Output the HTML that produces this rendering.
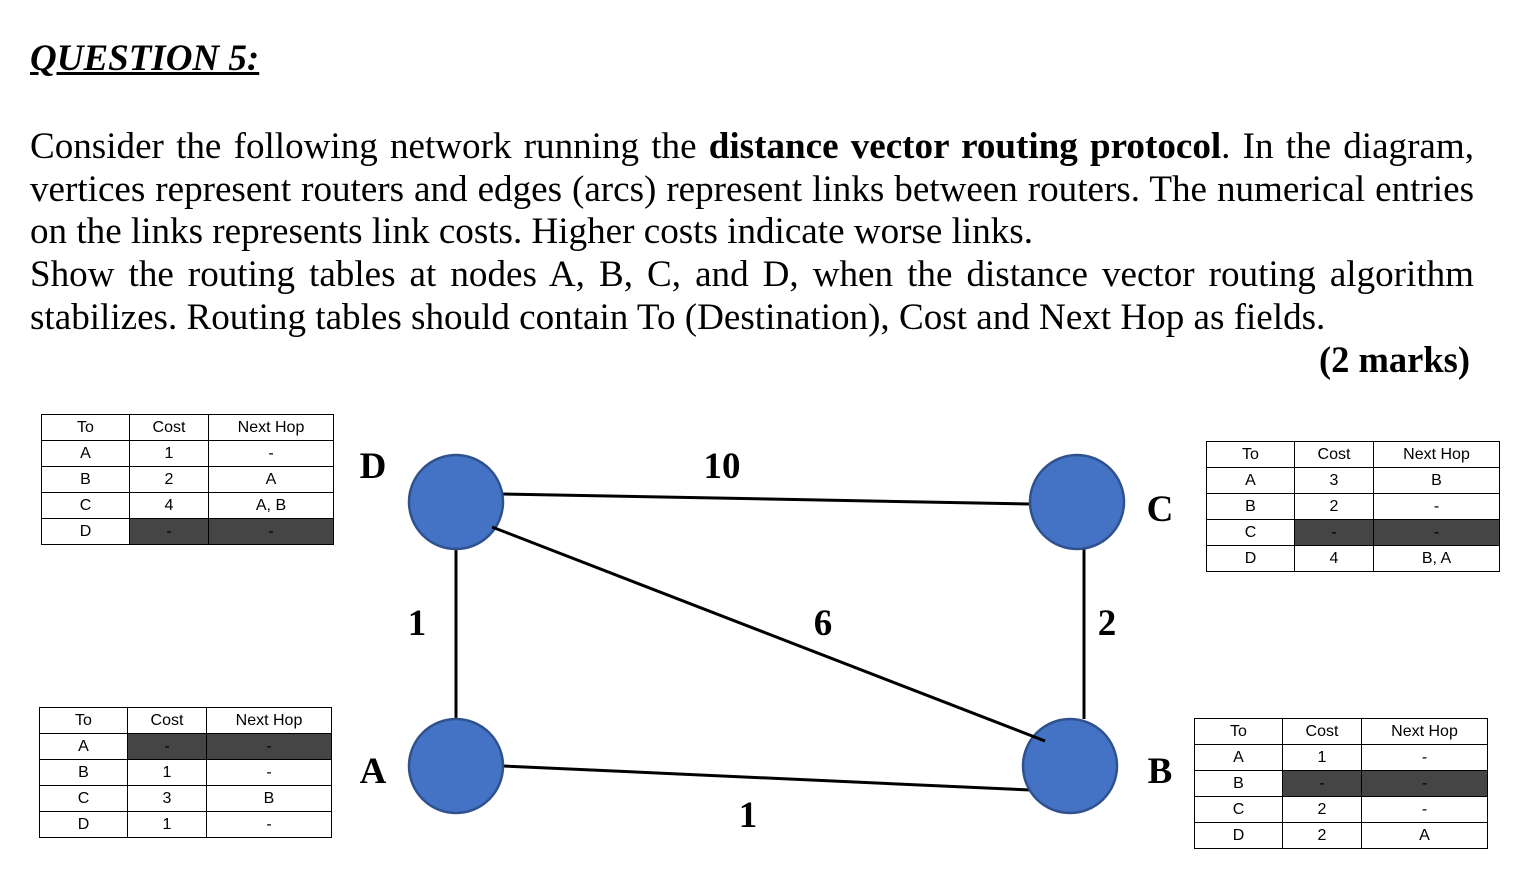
<!DOCTYPE html>
<html><head><style>
body{margin:0;width:1536px;height:888px;background:#fff;position:relative;overflow:hidden;font-family:"Liberation Serif",serif}
.t{position:absolute;margin:0}
#title{left:30px;top:37px;font-size:37px;font-weight:bold;font-style:italic;text-decoration:underline}
#para{left:30px;top:126px;width:1444px;font-size:37.1px;line-height:42.7px;text-align:justify;text-align-last:justify}
#para span{display:block;white-space:nowrap}
#marks{right:66px;top:338px;font-size:36.5px;font-weight:bold}
table{position:absolute;border-collapse:collapse;font-family:"Liberation Sans",sans-serif;font-size:16px}
td{border:1.5px solid #000;height:25px;padding:0;text-align:center}
td.d{background:#454545}
</style></head><body>
<div class="t" id="title">QUESTION 5:</div>
<div class="t" id="para">
<span>Consider the following network running the <b>distance vector routing protocol</b>. In the diagram,</span>
<span>vertices represent routers and edges (arcs) represent links between routers. The numerical entries</span>
<span style="text-align-last:left">on the links represents link costs. Higher costs indicate worse links.</span>
<span>Show the routing tables at nodes A, B, C, and D, when the distance vector routing algorithm</span>
<span style="text-align-last:left">stabilizes. Routing tables should contain To (Destination), Cost and Next Hop as fields.</span>
</div>
<div class="t" id="marks">(2 marks)</div>

<table style="left:41px;top:414px"><colgroup><col width="88"><col width="79"><col width="125"></colgroup>
<tr><td>To</td><td>Cost</td><td>Next Hop</td></tr>
<tr><td>A</td><td>1</td><td>-</td></tr>
<tr><td>B</td><td>2</td><td>A</td></tr>
<tr><td>C</td><td>4</td><td>A, B</td></tr>
<tr><td>D</td><td class="d">-</td><td class="d">-</td></tr></table>

<table style="left:39px;top:707px"><colgroup><col width="88"><col width="79"><col width="125"></colgroup>
<tr><td>To</td><td>Cost</td><td>Next Hop</td></tr>
<tr><td>A</td><td class="d">-</td><td class="d">-</td></tr>
<tr><td>B</td><td>1</td><td>-</td></tr>
<tr><td>C</td><td>3</td><td>B</td></tr>
<tr><td>D</td><td>1</td><td>-</td></tr></table>

<table style="left:1206px;top:441px"><colgroup><col width="88"><col width="79"><col width="126"></colgroup>
<tr><td>To</td><td>Cost</td><td>Next Hop</td></tr>
<tr><td>A</td><td>3</td><td>B</td></tr>
<tr><td>B</td><td>2</td><td>-</td></tr>
<tr><td>C</td><td class="d">-</td><td class="d">-</td></tr>
<tr><td>D</td><td>4</td><td>B, A</td></tr></table>

<table style="left:1194px;top:718px"><colgroup><col width="88"><col width="79"><col width="126"></colgroup>
<tr><td>To</td><td>Cost</td><td>Next Hop</td></tr>
<tr><td>A</td><td>1</td><td>-</td></tr>
<tr><td>B</td><td class="d">-</td><td class="d">-</td></tr>
<tr><td>C</td><td>2</td><td>-</td></tr>
<tr><td>D</td><td>2</td><td>A</td></tr></table>

<svg style="position:absolute;left:0;top:0" width="1536" height="888">
<g stroke="#000" stroke-width="3">
<line x1="503" y1="494" x2="1030" y2="504"/>
<line x1="456" y1="549" x2="456" y2="719"/>
<line x1="1084" y1="549" x2="1084" y2="719"/>
<line x1="503" y1="766" x2="1030" y2="790"/>
</g>
<g fill="#4472c4" stroke="#2f528f" stroke-width="2.5">
<circle cx="456" cy="502" r="47"/><circle cx="1077" cy="502" r="47"/>
<circle cx="456" cy="766" r="47"/><circle cx="1070" cy="766" r="47"/>
</g>
<line x1="492" y1="527" x2="1045" y2="741" stroke="#000" stroke-width="3"/>
<g font-family="Liberation Serif,serif" font-weight="bold" font-size="37" text-anchor="middle">
<text x="373" y="478">D</text><text x="722" y="478">10</text><text x="1160" y="521">C</text>
<text x="417" y="635">1</text><text x="823" y="635">6</text><text x="1107" y="635">2</text>
<text x="373" y="783">A</text><text x="1160" y="783">B</text><text x="748" y="827">1</text>
</g>
</svg>
</body></html>
